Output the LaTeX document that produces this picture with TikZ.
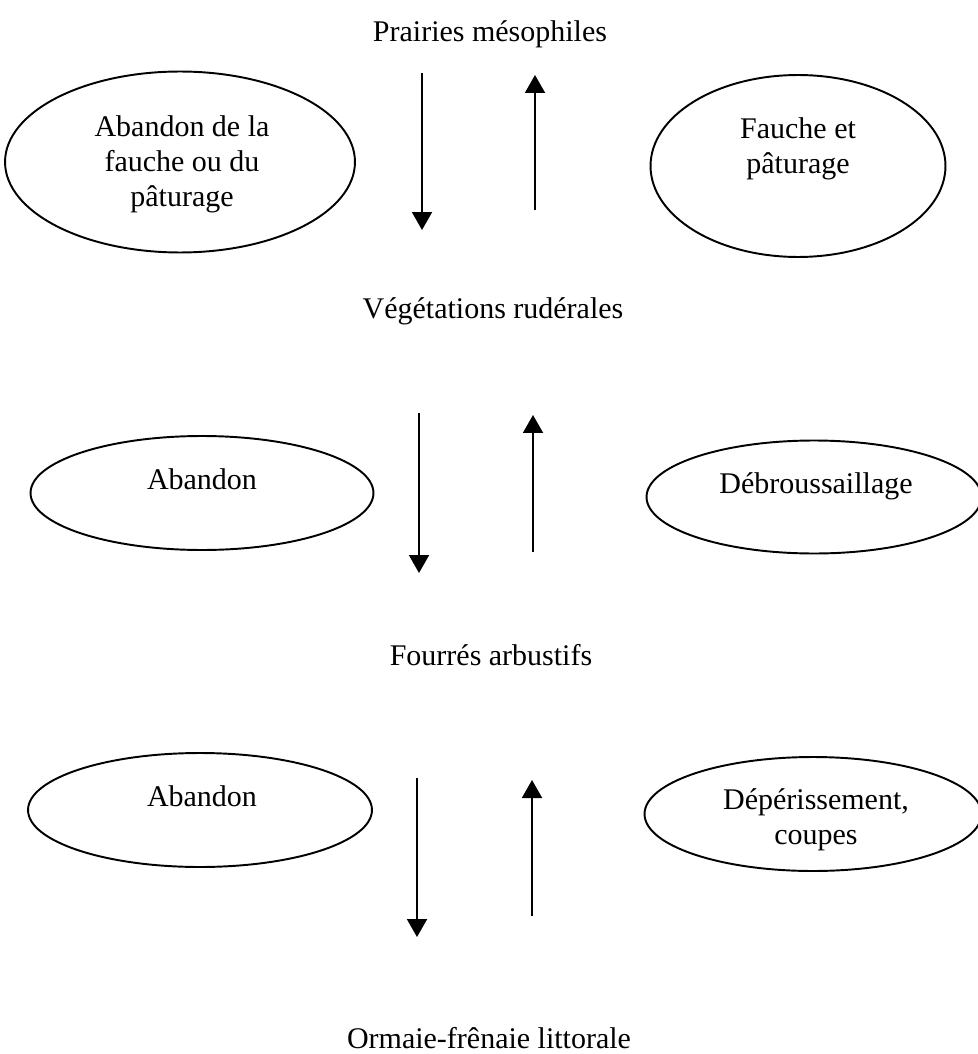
\documentclass[tikz,border=0pt]{standalone}
\usepackage{fontspec}
\setmainfont{Liberation Serif}
\usetikzlibrary{arrows.meta,shapes.geometric}

\begin{document}
\begin{tikzpicture}[x=0.02cm, y=-0.02cm, line width=1.1pt,
    every node/.style={font=\fontsize{17.07}{19.92}\selectfont, inner sep=0pt},
    level/.style={anchor=base},
    txt/.style={anchor=north, align=center},
    oval/.style={ellipse, draw},
    >={Triangle[length=0.36cm, width=0.4cm]}]
      \useasboundingbox (0,0) rectangle (977,1054);

      % stades
      \node (P0) [level] at (490,42) {Prairies mésophiles};
      \node (P1) [level] at (493,318) {Végétations rudérales};
      \node (P2) [level] at (491,665) {Fourrés arbustifs};
      \node (P3) [level] at (489,1048) {Ormaie-frênaie littorale};

      % ellipses
      \node (E1L) [oval, minimum width=7cm, minimum height=3.62cm] at (180,162) {};
      \node (E1R) [oval, minimum width=5.9cm, minimum height=3.64cm] at (798,166) {};
      \node (E2L) [oval, minimum width=6.86cm, minimum height=2.28cm] at (202,493) {};
      \node (E2R) [oval, minimum width=6.7cm, minimum height=2.26cm] at (814,497) {};
      \node (E3L) [oval, minimum width=6.88cm, minimum height=2.28cm] at (200,810) {};
      \node (E3R) [oval, minimum width=6.74cm, minimum height=2.28cm] at (813,814) {};

      \node (T1L) [txt] at (182,115) {Abandon de la\\fauche ou du\\pâturage};
      \node (T1R) [txt] at (798,117) {Fauche et\\pâturage};
      \node (T2L) [txt] at (202,468) {Abandon};
      \node (T2R) [txt] at (816,472) {Débroussaillage};
      \node (T3L) [txt] at (202,785) {Abandon};
      \node (T3R) [txt] at (816,788) {Dépérissement,\\coupes};

      % fleches
      \coordinate (d1a) at (422,73);  \coordinate (d1b) at (422,230);
      \coordinate (u1a) at (535,210); \coordinate (u1b) at (535,75);
      \coordinate (d2a) at (419,413); \coordinate (d2b) at (419,573);
      \coordinate (u2a) at (533,552); \coordinate (u2b) at (533,415);
      \coordinate (d3a) at (417,778); \coordinate (d3b) at (417,937);
      \coordinate (u3a) at (532,916); \coordinate (u3b) at (532,780);

      \path[->]
        (d1a) edge (d1b)
        (u1a) edge (u1b)
        (d2a) edge (d2b)
        (u2a) edge (u2b)
        (d3a) edge (d3b)
        (u3a) edge (u3b);
    \end{tikzpicture}
\end{document}
